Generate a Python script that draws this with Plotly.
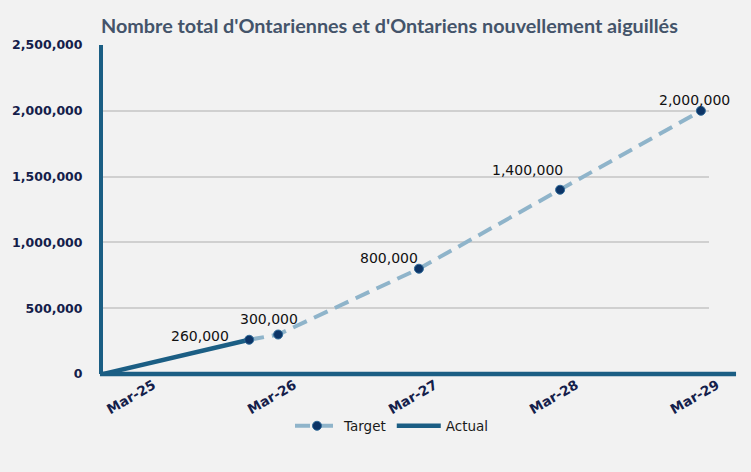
import plotly.graph_objects as go

title_text = "Nombre total d'Ontariennes et d'Ontariens nouvellement aiguillés"

actual_dates = ["2025-01-01", "2026-01-15"]
actual_values = [0, 260000]

target_dates = ["2026-01-15", "2026-03-31", "2027-03-31", "2028-03-31", "2029-03-31"]
target_values = [260000, 300000, 800000, 1400000, 2000000]
target_labels = ["260,000", "300,000", "800,000", "1,400,000", "2,000,000"]

tick_dates = ["2025-03-31", "2026-03-31", "2027-03-31", "2028-03-31", "2029-03-31"]
tick_labels = ["Mar-25", "Mar-26", "Mar-27", "Mar-28", "Mar-29"]
y_ticks = [0, 500000, 1000000, 1500000, 2000000, 2500000]

# label offsets in pixels (dx, dy up)
label_offsets = [(-49, 4), (-9, 16), (-30, 11), (-33, 20), (-6, 11)]

BLUE = "#1b5e84"
LIGHT = "#8fb4ca"
NAVY = "#0c3466"
TICKCOL = "#14204a"
BG = "#f2f2f2"

fig = go.Figure()

fig.add_trace(go.Scatter(
    x=actual_dates, y=actual_values, name="Actual", mode="lines",
    line=dict(color=BLUE, width=4.5), legendrank=2,
))
fig.add_trace(go.Scatter(
    x=target_dates, y=target_values, name="Target", mode="lines+markers",
    line=dict(color=LIGHT, width=4, dash="15px,8px"),
    marker=dict(color=NAVY, size=9, line=dict(color="#2f6a98", width=1)),
    legendrank=1,
))

annotations = []
for d, v, t, (dx, dy) in zip(target_dates, target_values, target_labels, label_offsets):
    annotations.append(dict(
        x=d, y=v, xref="x", yref="y", text=t, showarrow=False,
        xanchor="center", yanchor="middle", xshift=dx, yshift=dy,
        font=dict(family="DejaVu Sans", size=14, color="#111111"),
    ))

fig.update_layout(
    width=751, height=472,
    paper_bgcolor=BG, plot_bgcolor=BG,
    margin=dict(l=103, r=42, t=45, b=98, autoexpand=False),
    title=dict(
        text=title_text, x=101 / 751, xref="container", xanchor="left",
        y=1 - 26 / 472, yref="container", yanchor="middle",
        font=dict(family="Lato", size=19.8, color="#44546a", weight="bold"),
    ),
    annotations=annotations,
    showlegend=True,
    legend=dict(
        orientation="h", x=392 / 751, xref="container", xanchor="center",
        y=1 - 426 / 472, yref="container", yanchor="middle",
        font=dict(family="DejaVu Sans", size=13.5, color="#1a1a1a"),
        bgcolor="rgba(0,0,0,0)", itemwidth=44,
    ),
    xaxis=dict(
        type="date", range=["2025-01-01", "2029-04-21"], automargin=False,
        tickvals=tick_dates, ticktext=tick_labels, tickangle=-30,
        ticks="", showgrid=False, zeroline=False, showline=False,
        tickfont=dict(family="DejaVu Sans", size=13.5, color=TICKCOL, weight="bold"),
        ticklabelshift=16, ticklabelstandoff=0,
    ),
    xaxis2=dict(
        type="date", overlaying="x", anchor="y", matches="x", side="bottom",
        range=["2025-01-01", "2029-04-21"], automargin=False,
        tickvals=tick_dates[1:], showticklabels=False,
        ticks="inside", ticklen=6, tickwidth=2, tickcolor=BLUE,
        showgrid=False, zeroline=False, showline=False,
    ),
    yaxis=dict(
        range=[0, 2500000], tickvals=y_ticks, tickformat=",d", automargin=False,
        showgrid=True, gridcolor="#d0d0d0", gridwidth=2,
        zeroline=False, showline=True, linecolor=BLUE, linewidth=4,
        ticks="", ticklabelstandoff=14,
        tickfont=dict(family="DejaVu Sans", size=12.5, color=TICKCOL, weight="bold"),
    ),
    shapes=[dict(
        type="line", xref="paper", yref="paper", x0=-0.005, x1=1.0446, y0=0, y1=0,
        line=dict(color=BLUE, width=4.5), layer="above",
    )],
)

fig.write_html(
    "out.html",
    config={"displayModeBar": False},
    post_script="document.body.style.margin='0px';",
)
